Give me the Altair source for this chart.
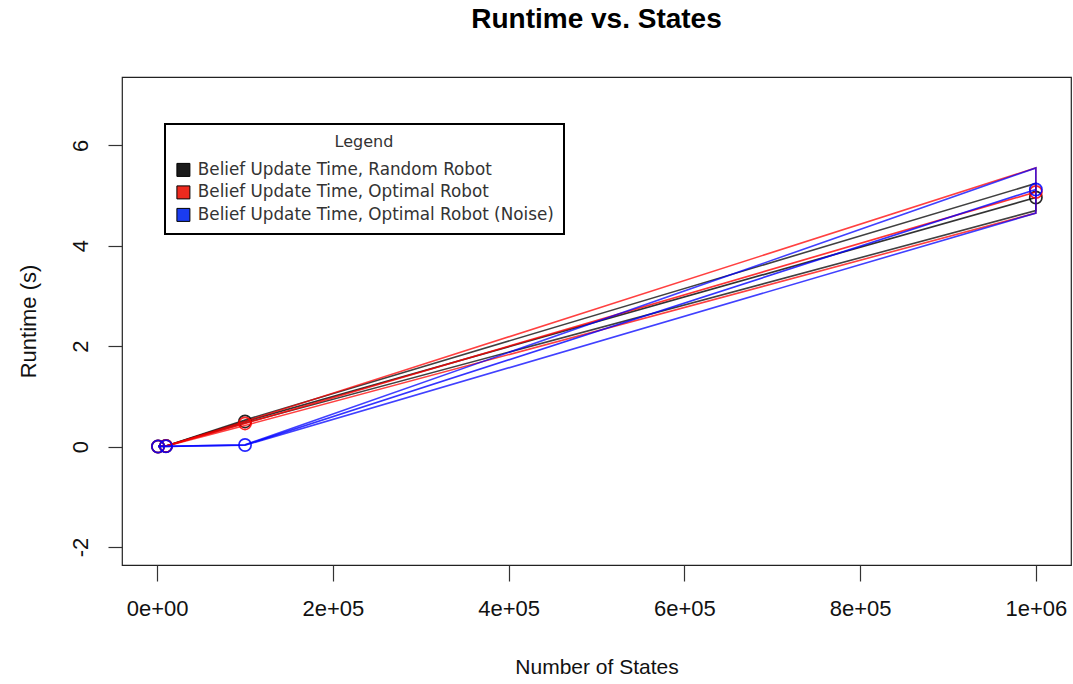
import altair as alt
import pandas as pd

# ---- data ----
series_names = [
    "Belief Update Time, Random Robot",
    "Belief Update Time, Optimal Robot",
    "Belief Update Time, Optimal Robot (Noise)",
]
series_colors = ["#000000", "#ff0000", "#0000ff"]
legend_colors = ["#1a1a1a", "#ee2a1e", "#1a3cf0"]

states = [1000, 10000, 100000, 1000000]

random_mean = [0.001, 0.010, 0.50, 4.96]
random_upper = [0.001, 0.012, 0.53, 5.24]
random_lower = [0.001, 0.008, 0.47, 4.70]

optimal_mean = [0.001, 0.010, 0.46, 5.07]
optimal_upper = [0.001, 0.012, 0.50, 5.55]
optimal_lower = [0.001, 0.008, 0.42, 4.65]

noise_mean = [0.001, 0.004, 0.03, 5.12]
noise_upper = [0.001, 0.005, 0.035, 5.55]
noise_lower = [0.001, 0.003, 0.025, 4.65]

x_ticks = [0, 200000, 400000, 600000, 800000, 1000000]
x_tick_labels = ["0e+00", "2e+05", "4e+05", "6e+05", "8e+05", "1e+06"]
y_ticks = [-2, 0, 2, 4, 6]

means = [random_mean, optimal_mean, noise_mean]
uppers = [random_upper, optimal_upper, noise_upper]
lowers = [random_lower, optimal_lower, noise_lower]

# ---- scales / axes ----
x_scale = alt.Scale(domain=[-40000, 1040000], nice=False, zero=False)
y_scale = alt.Scale(domain=[-2.36, 7.36], nice=False, zero=False)
stroke_scale = alt.Scale(domain=series_names, range=series_colors)

expr = "''"
for v, lab in zip(reversed(x_ticks), reversed(x_tick_labels)):
    expr = f"datum.value == {v} ? '{lab}' : ({expr})"

AX_FONT = "Liberation Sans"
FS = 22
x_axis = alt.Axis(
    values=x_ticks, labelExpr=expr, title="Number of States",
    titleFont=AX_FONT, titleFontSize=21, titleFontWeight="normal", titleColor="#111",
    titleX=474.5, titleY=102, titleBaseline="middle", titleAlign="center",
    labelFont=AX_FONT, labelFontSize=FS, labelColor="#111", labelBaseline="middle",
    labelPadding=27, tickSize=16, tickColor="#333", tickWidth=1.2, domain=False, grid=False,
    labelFlush=False, labelOverlap=False,
)
y_axis = alt.Axis(
    values=y_ticks, labelExpr="toString(datum.value)", title="Runtime (s)",
    titleFont=AX_FONT, titleFontSize=FS, titleFontWeight="normal", titleColor="#111",
    titleX=-94, titleY=244, titleBaseline="middle", titleAlign="center", titleAngle=270,
    labelFont=AX_FONT, labelFontSize=FS, labelColor="#111", labelAngle=270,
    labelAlign="center", labelBaseline="middle", labelPadding=28,
    tickSize=14, tickColor="#333", tickWidth=1.2, domain=False, grid=False,
    labelFlush=False, labelOverlap=False,
)

enc_x = alt.X("x:Q", scale=x_scale, axis=x_axis)
enc_y = alt.Y("y:Q", scale=y_scale, axis=y_axis)
stroke_enc = alt.Stroke("series:N", scale=stroke_scale, legend=None)

layers = []
for i, name in enumerate(series_names):
    band_rows = []
    k = 0
    for x, y in zip(states, uppers[i]):
        band_rows.append({"series": name, "x": x, "y": y, "k": k}); k += 1
    for x, y in zip(reversed(states), reversed(lowers[i])):
        band_rows.append({"series": name, "x": x, "y": y, "k": k}); k += 1
    band_rows.append({"series": name, "x": states[0], "y": uppers[i][0], "k": k})
    band_df = pd.DataFrame(band_rows)
    mean_df = pd.DataFrame({"series": name, "x": states, "y": means[i]})

    band = alt.Chart(band_df).mark_line(strokeWidth=1.6, opacity=0.75).encode(
        x=enc_x, y=enc_y, stroke=stroke_enc, order="k:Q")
    mean_line = alt.Chart(mean_df).mark_line(strokeWidth=1.7, opacity=0.8).encode(
        x=enc_x, y=enc_y, stroke=stroke_enc)
    pts = alt.Chart(mean_df).mark_point(shape="circle", filled=False, size=150,
                                        strokeWidth=1.7, opacity=0.85).encode(
        x=enc_x, y=enc_y, stroke=stroke_enc)
    layers += [band, mean_line, pts]

legend_df = pd.DataFrame({
    "label": [n for n in series_names for _ in states],
    "x": states * 3,
    "y": random_mean + optimal_mean + noise_mean,
})
legend_layer = alt.Chart(legend_df).mark_square(size=169, filled=True, fillOpacity=0,
                                                strokeOpacity=0).encode(
    x=enc_x,
    y=enc_y,
    fill=alt.Fill("label:N", sort=series_names, scale=alt.Scale(range=legend_colors),
                  legend=alt.Legend(
        title="Legend", orient="none", legendX=43, legendY=47,
        symbolType="square", symbolSize=169, symbolOpacity=1,
        symbolStrokeColor="black", symbolStrokeWidth=1,
        labelFont="DejaVu Sans", labelFontSize=16.8, labelColor="#333",
        titleFont="DejaVu Sans", titleFontSize=16, titleFontWeight="normal",
        titleColor="#333", titleAnchor="middle", titlePadding=11.5,
        padding=10, rowPadding=3.5, labelOffset=6, strokeColor="black",
        fillColor="white", labelLimit=600,
    )),
)

chart = alt.layer(*layers, legend_layer).properties(
    width=949, height=488,
    title=alt.TitleParams("Runtime vs. States", font=AX_FONT, fontSize=28,
                          fontWeight="bold", anchor="middle", color="#000",
                          baseline="alphabetic", offset=21),
    padding={"left": 122, "top": 77, "right": 2, "bottom": 119},
    autosize=alt.AutoSizeParams(type="none"),
).configure_view(stroke="#222", strokeWidth=1.2).configure_legend(strokeWidth=2)

chart.save("out.html", embed_options={"renderer": "svg", "actions": False})
